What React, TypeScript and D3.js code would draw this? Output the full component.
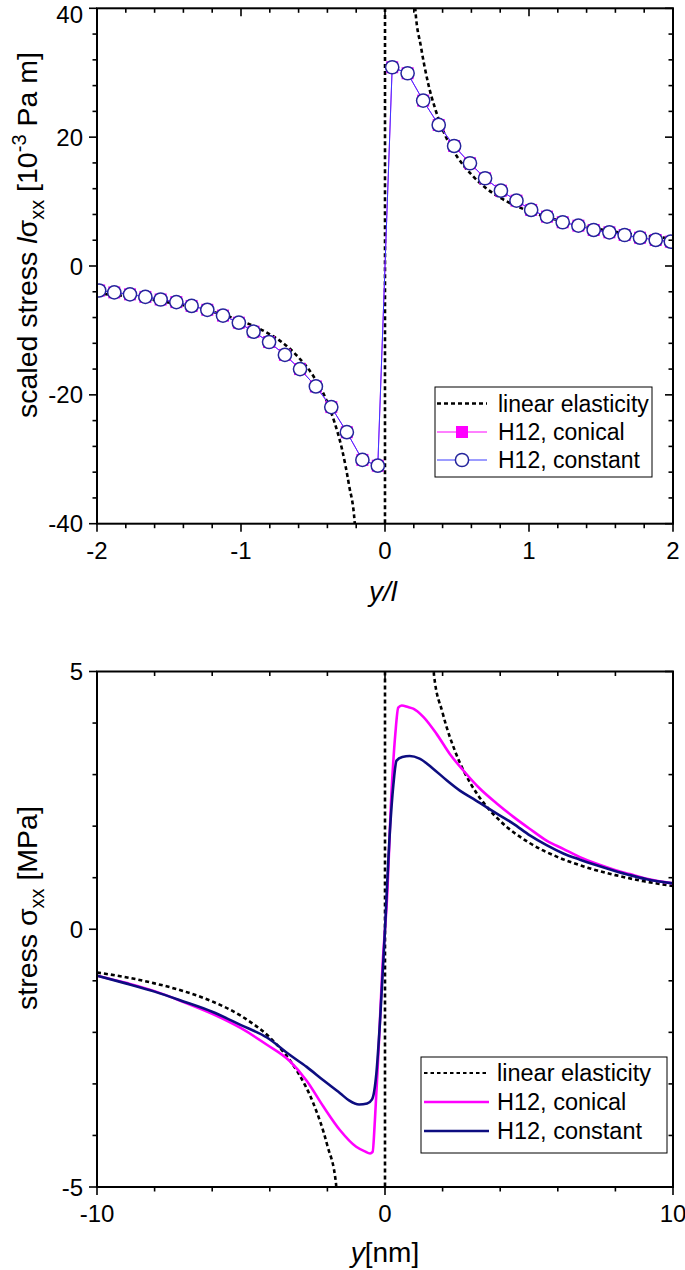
import React from 'react';
import * as d3 from 'd3';

// ---------- data ----------
// Top panel: H12 markers (y/l, scaled stress l*sigma_xx [1e-3 Pa m])
const topMarkerX = [
  -1.985, -1.88, -1.771, -1.664, -1.558, -1.449, -1.343, -1.234, -1.125, -1.015,
  -0.913, -0.805, -0.695, -0.59, -0.48, -0.373, -0.265, -0.157, -0.05,
  0.05, 0.157, 0.265, 0.373, 0.48, 0.59, 0.695, 0.805, 0.913, 1.015,
  1.125, 1.234, 1.343, 1.449, 1.558, 1.664, 1.771, 1.88, 1.985,
];
const topConical = [
  -3.8, -4.1, -4.4, -4.8, -5.2, -5.6, -6.2, -6.8, -7.7, -8.8,
  -10.2, -11.8, -13.8, -16.0, -18.7, -21.9, -25.8, -30.1, -31.0,
  30.85, 29.92, 25.67, 21.89, 18.63, 15.95, 13.62, 11.69, 10.14, 8.7,
  7.66, 6.79, 6.26, 5.59, 5.23, 4.81, 4.39, 4.04, 3.77,
];
const topConstant = topConical.slice();

// Top panel: linear elasticity
const topElasticX = [
  -2.0, -1.8, -1.6, -1.4, -1.2, -1.0, -0.8, -0.7, -0.6, -0.5, -0.4, -0.35, -0.3, -0.25, -0.21, -0.005,
  0.005, 0.21, 0.25, 0.3, 0.35, 0.4, 0.5, 0.6, 0.7, 0.8, 1.0, 1.2, 1.4, 1.6, 1.8, 2.0,
];
const topElasticY = [
  -4.25, -4.7, -5.3, -6.1, -7.1, -8.5, -10.6, -12.1, -14.2, -17.0, -21.2, -24.3, -28.3, -34.0, -40.0, -1700,
  1700, 40.0, 34.0, 28.3, 24.3, 21.2, 17.0, 14.2, 12.1, 10.6, 8.5, 7.1, 6.1, 5.3, 4.7, 4.25,
];

// Bottom panel: linear elasticity (y [nm], sigma_xx [MPa])
const botElasticX = [
  -10, -9, -8, -7, -6, -5, -4, -3.5, -3, -2.5, -2, -1.7, -0.01,
  0.01, 1.7, 2, 2.5, 3, 3.5, 4, 5, 6, 7, 8, 9, 10,
];
const botElasticY = [
  -0.84, -0.93, -1.05, -1.2, -1.4, -1.68, -2.1, -2.4, -2.8, -3.36, -4.2, -4.94, -840,
  840, 4.94, 4.2, 3.36, 2.8, 2.4, 2.1, 1.68, 1.4, 1.2, 1.05, 0.93, 0.84,
];

// Bottom panel: H12, conical
const conicalX = [
  -10, -9, -8, -7, -6, -5, -4.1, -3.3, -2.72, -2.14, -1.56, -1.0, -0.7, -0.52, -0.43, -0.35, -0.23, -0.06, 0,
  0.06, 0.23, 0.36, 0.46, 0.58, 0.8, 0.98, 1.33, 1.79, 2.25, 2.72, 3.29, 3.88, 4.46, 5.02, 5.61, 6.19, 6.77, 7.35, 7.93, 8.5, 9.09, 10,
];
const conicalY = [
  -0.9, -1.04, -1.2, -1.41, -1.64, -1.92, -2.24, -2.56, -2.94, -3.44, -3.9, -4.22, -4.31, -4.35, -4.32, -3.7, -2.41, -0.47, 0,
  0.5, 2.7, 3.8, 4.3, 4.34, 4.31, 4.28, 4.12, 3.79, 3.4, 3.08, 2.73, 2.44, 2.18, 1.95, 1.72, 1.56, 1.4, 1.27, 1.16, 1.07, 0.98, 0.89,
];

// Bottom panel: H12, constant
const constantX = [
  -10, -9, -8, -7, -6, -5, -4.1, -3.3, -2.72, -2.14, -1.56, -1.25, -0.9, -0.62, -0.45, -0.3, -0.17, 0,
  0.17, 0.29, 0.4, 0.6, 0.86, 1.2, 1.68, 2.14, 2.6, 3.07, 3.52, 3.98, 4.45, 5.03, 5.61, 6.19, 6.77, 7.35, 7.93, 8.5, 9.09, 10,
];
const constantY = [
  -0.9, -1.05, -1.21, -1.4, -1.6, -1.86, -2.1, -2.44, -2.67, -2.93, -3.18, -3.32, -3.4, -3.38, -3.3, -2.8, -1.76, 0,
  1.9, 2.8, 3.27, 3.34, 3.36, 3.31, 3.11, 2.89, 2.69, 2.53, 2.37, 2.21, 2.05, 1.82, 1.63, 1.47, 1.35, 1.24, 1.14, 1.05, 0.97, 0.89,
];

const topXTicks = [-2, -1, 0, 1, 2];
const topYTicks = [-40, -20, 0, 20, 40];
const botXTicks = [-10, 0, 10];
const botYTicks = [-5, 0, 5];

const legendTopLabels = ['linear elasticity', 'H12, conical', 'H12, constant'];
const legendBotLabels = ['linear elasticity', 'H12, conical', 'H12, constant'];

// ---------- styles ----------
const FONT = '"Liberation Sans", Arial, Helvetica, sans-serif';
const MAGENTA = '#ff00ff';
const NAVY = '#0d0d80';
const BLUE_LINE = '#3a3aff';
const CIRCLE_STROKE = '#25259c';

type Scale = d3.ScaleLinear<number, number>;

function Frame({ x, y, xMinor, yMinor, xMajor, yMajor }: {
  x: Scale; y: Scale; xMinor: number[]; yMinor: number[]; xMajor: number[]; yMajor: number[];
}) {
  const [x0, x1] = x.range();
  const [y0, y1] = y.range(); // y0 bottom, y1 top
  const items: React.ReactNode[] = [];
  const isMajor = (arr: number[], v: number) => arr.some((m) => Math.abs(m - v) < 1e-6);
  xMinor.forEach((v, i) => {
    const px = x(v);
    const L = isMajor(xMajor, v) ? 8 : 4.5;
    items.push(<line key={'bx' + i} x1={px} x2={px} y1={y0} y2={y0 + L} stroke="#000" strokeWidth={1.6} />);
    items.push(<line key={'tx' + i} x1={px} x2={px} y1={y1} y2={y1 + L} stroke="#000" strokeWidth={1.6} />);
  });
  yMinor.forEach((v, i) => {
    const py = y(v);
    const L = isMajor(yMajor, v) ? 8 : 4.5;
    items.push(<line key={'ly' + i} x1={x0 - L} x2={x0} y1={py} y2={py} stroke="#000" strokeWidth={1.6} />);
    items.push(<line key={'ry' + i} x1={x1 - L} x2={x1} y1={py} y2={py} stroke="#000" strokeWidth={1.6} />);
  });
  return (
    <g>
      {items}
      <rect x={x0} y={y1} width={x1 - x0} height={y0 - y1} fill="none" stroke="#000" strokeWidth={2} />
      {xMajor.map((v) => (
        <text key={'xl' + v} x={x(v)} y={y0 + 35} textAnchor="middle" fontSize={24} fontFamily={FONT}>{String(v)}</text>
      ))}
      {yMajor.map((v) => (
        <text key={'yl' + v} x={x0 - 14} y={Math.max(y(v) + 8.5, 23)} textAnchor="end" fontSize={24} fontFamily={FONT}>{String(v)}</text>
      ))}
    </g>
  );
}

export default function App() {
  // top panel scales
  const xT = d3.scaleLinear().domain([-2, 2]).range([97, 673]);
  const yT = d3.scaleLinear().domain([-40, 40]).range([523.7, 8.3]);
  // bottom panel scales
  const xB = d3.scaleLinear().domain([-10, 10]).range([97, 673]);
  const yB = d3.scaleLinear().domain([-5, 5]).range([1187, 671.5]);

  const lineT = d3.line<number>().x((_, i) => xT(topMarkerX[i])).y((v) => yT(v));
  const elasticT = d3.line<number>().x((_, i) => xT(topElasticX[i])).y((v) => yT(v)).curve(d3.curveMonotoneX);
  const elasticB = d3.line<number>().x((_, i) => xB(botElasticX[i])).y((v) => yB(v)).curve(d3.curveMonotoneX);
  const conLine = d3.line<number>().x((_, i) => xB(conicalX[i])).y((v) => yB(v)).curve(d3.curveMonotoneX);
  const cstLine = d3.line<number>().x((_, i) => xB(constantX[i])).y((v) => yB(v)).curve(d3.curveMonotoneX);

  const xMinT = d3.range(-2, 2.0001, 0.2).map((v) => Math.round(v * 10) / 10);
  const yMinT = d3.range(-40, 40.001, 4);
  const xMinB = d3.range(-10, 10.001, 2);
  const yMinB = d3.range(-5, 5.001, 1);

  // legend geometry
  const lgT = { x: 435, y: 387, w: 217, h: 90, rows: [403.5, 432, 460], l0: 437, l1: 487, tx: 498 };
  const lgB = { x: 421, y: 1057, w: 246, h: 96, rows: [1073, 1102, 1131], l0: 424, l1: 489, tx: 497 };

  return (
    <svg width={685} height={1270} style={{ position: 'absolute', left: 0, top: 0, background: '#fff' }} xmlns="http://www.w3.org/2000/svg">
      <defs>
        <clipPath id="clipT"><rect x={97} y={8.3} width={576} height={515.4} /></clipPath>
        <clipPath id="clipB"><rect x={97} y={671.5} width={576} height={515.5} /></clipPath>
      </defs>
      <rect x={0} y={0} width={685} height={1270} fill="#fff" />

      {/* ---------- TOP PANEL ---------- */}
      <g clipPath="url(#clipT)">
        <path d={elasticT(topElasticY) || ''} fill="none" stroke="#000" strokeWidth={2.6} strokeDasharray="4,3" />
        <path d={lineT(topConical) || ''} fill="none" stroke={MAGENTA} strokeWidth={1} />
        <path d={lineT(topConstant) || ''} fill="none" stroke={BLUE_LINE} strokeWidth={1} />
        {topConical.map((v, i) => (
          <rect key={'sq' + i} x={xT(topMarkerX[i]) - 6} y={yT(v) - 6} width={12} height={12} fill={MAGENTA} />
        ))}
        {topConstant.map((v, i) => (
          <circle key={'ci' + i} cx={xT(topMarkerX[i])} cy={yT(v)} r={6.6} fill="#fff" stroke={CIRCLE_STROKE} strokeWidth={1.5} />
        ))}
      </g>
      <Frame x={xT} y={yT} xMinor={xMinT} yMinor={yMinT} xMajor={topXTicks} yMajor={topYTicks} />

      {/* top legend */}
      <rect x={lgT.x} y={lgT.y} width={lgT.w} height={lgT.h} fill="#fff" stroke="#000" strokeWidth={1} />
      <line x1={lgT.l0} x2={lgT.l1} y1={lgT.rows[0]} y2={lgT.rows[0]} stroke="#000" strokeWidth={2.5} strokeDasharray="4,3" />
      <line x1={lgT.l0} x2={lgT.l1} y1={lgT.rows[1]} y2={lgT.rows[1]} stroke={MAGENTA} strokeWidth={1} />
      <rect x={(lgT.l0 + lgT.l1) / 2 - 6} y={lgT.rows[1] - 6} width={12} height={12} fill={MAGENTA} />
      <line x1={lgT.l0} x2={lgT.l1} y1={lgT.rows[2]} y2={lgT.rows[2]} stroke={BLUE_LINE} strokeWidth={1} />
      <circle cx={(lgT.l0 + lgT.l1) / 2} cy={lgT.rows[2]} r={6.6} fill="#fff" stroke={CIRCLE_STROKE} strokeWidth={1.5} />
      {legendTopLabels.map((t, i) => (
        <text key={'lt' + i} x={lgT.tx} y={lgT.rows[i] + 8} fontSize={23} fontFamily={FONT}>{t}</text>
      ))}

      {/* top axis titles */}
      <text x={383} y={601} textAnchor="middle" fontSize={28} fontFamily={FONT} fontStyle="italic">y/l</text>
      <text transform="translate(37,418) rotate(-90)" fontSize={28.5} fontFamily={FONT}>
        scaled stress <tspan fontStyle="italic">l</tspan>σ<tspan fontSize={20} dy={7}>xx</tspan>
        <tspan dy={-7}> [10</tspan><tspan fontSize={20} dy={-11}>-3</tspan><tspan dy={11}> Pa m]</tspan>
      </text>

      {/* ---------- BOTTOM PANEL ---------- */}
      <g clipPath="url(#clipB)">
        <path d={elasticB(botElasticY) || ''} fill="none" stroke="#000" strokeWidth={2.6} strokeDasharray="4,3" />
        <path d={conLine(conicalY) || ''} fill="none" stroke={MAGENTA} strokeWidth={2.6} />
        <path d={cstLine(constantY) || ''} fill="none" stroke={NAVY} strokeWidth={2.6} />
      </g>
      <Frame x={xB} y={yB} xMinor={xMinB} yMinor={yMinB} xMajor={botXTicks} yMajor={botYTicks} />

      {/* bottom legend */}
      <rect x={lgB.x} y={lgB.y} width={lgB.w} height={lgB.h} fill="#fff" stroke="#000" strokeWidth={1} />
      <line x1={lgB.l0} x2={lgB.l1} y1={lgB.rows[0]} y2={lgB.rows[0]} stroke="#000" strokeWidth={2} strokeDasharray="3.5,3" />
      <line x1={lgB.l0} x2={lgB.l1} y1={lgB.rows[1]} y2={lgB.rows[1]} stroke={MAGENTA} strokeWidth={2.6} />
      <line x1={lgB.l0} x2={lgB.l1} y1={lgB.rows[2]} y2={lgB.rows[2]} stroke={NAVY} strokeWidth={2.6} />
      {legendBotLabels.map((t, i) => (
        <text key={'lb' + i} x={lgB.tx} y={lgB.rows[i] + 8} fontSize={23.5} fontFamily={FONT}>{t}</text>
      ))}

      {/* bottom axis titles */}
      <text x={385} y={1262} textAnchor="middle" fontSize={28} fontFamily={FONT}>
        <tspan fontStyle="italic">y</tspan>[nm]
      </text>
      <text transform="translate(37,1010) rotate(-90)" fontSize={28.5} fontFamily={FONT}>
        stress σ<tspan fontSize={20} dy={7}>xx</tspan><tspan dy={-7}> [MPa]</tspan>
      </text>
    </svg>
  );
}
